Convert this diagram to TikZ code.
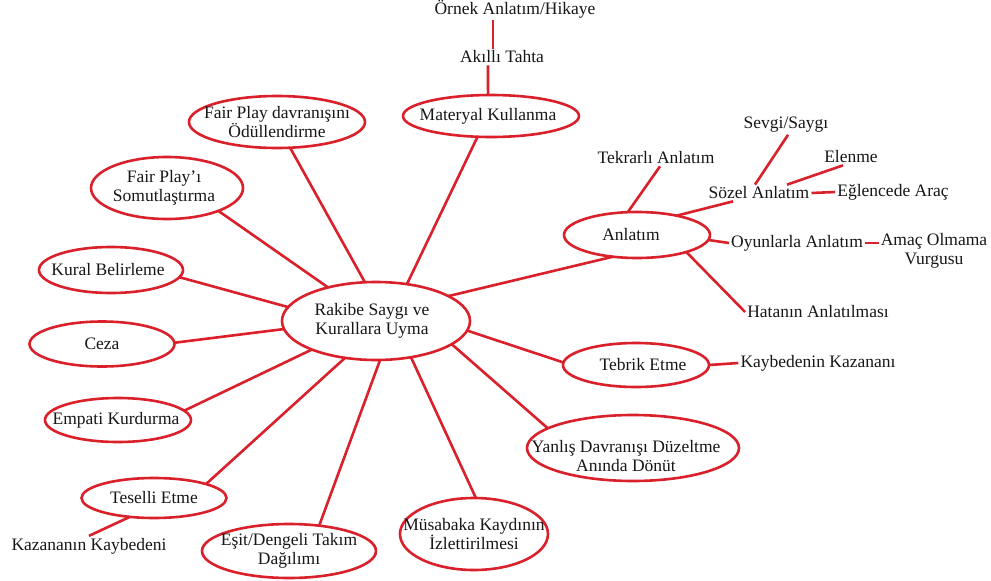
\documentclass[tikz,border=0pt]{standalone}
\usepackage{fontspec}
\setmainfont{Liberation Serif}
\usetikzlibrary{shapes.geometric}
\definecolor{lred}{RGB}{218,32,42}
\definecolor{ink}{RGB}{25,22,24}
\begin{document}
\begin{tikzpicture}[x=1pt,y=-1pt,
  ell/.style 2 args={ellipse, draw=lred, line width=2.6pt, minimum width=#1, minimum height=#2, inner sep=0pt, outer sep=0pt},
  txt/.style={text=ink, inner sep=2pt, font=\fontsize{17.5}{19}\selectfont, align=center},
  every label/.style={txt},
  link/.style={draw=lred, line width=2.6pt},
]
\useasboundingbox[fill=white] (0,0) rectangle (991,581);

% main ellipses
\node[ell={188}{78}, label={[xshift=-4pt]center:{Rakibe Saygı ve\\Kurallara Uyma}}] (c) at (376,321) {};
\node[ell={176}{42}, label={[xshift=-3pt]center:{Materyal Kullanma}}] (m) at (491,116) {};
\node[ell={176}{52}, label={center:{Fair Play davranışını\\Ödüllendirme}}] (o) at (277,122) {};
\node[ell={152}{62}, label={[xshift=-3pt]center:{Fair Play’ı\\Somutlaştırma}}] (s) at (167,188) {};
\node[ell={144}{46}, label={[xshift=-3pt]center:{Kural Belirleme}}] (k) at (111,270) {};
\node[ell={145}{45}, label={center:{Ceza}}] (z) at (102,344) {};
\node[ell={146}{44}, label={[xshift=-2pt]center:{Empati Kurdurma}}] (e) at (118,420) {};
\node[ell={145}{40}, label={center:{Teselli Etme}}] (t) at (154,498) {};
\node[ell={174}{54}, label={center:{Eşit/Dengeli Takım\\Dağılımı}}] (d) at (289,551) {};
\node[ell={148}{72}, label={center:{Müsabaka Kaydının\\İzlettirilmesi}}] (mu) at (474,534) {};
\node[ell={212}{66}, label={[xshift=-7pt,yshift=-8pt]center:{Yanlış Davranışı Düzeltme\\Anında Dönüt}}] (y) at (633,448) {};
\node[ell={146}{44}, label={[xshift=7pt]center:{Tebrik Etme}}] (tb) at (636,365) {};
\node[ell={146}{46}, label={[xshift=-6pt]center:{Anlatım}}] (a) at (637,235) {};

% free texts
\node[txt] (orn) at (515,9) {Örnek Anlatım/Hikaye};
\node[txt] (akil) at (502,57) {Akıllı Tahta};
\node[txt] (tek) at (656,158) {Tekrarlı Anlatım};
\node[txt] (sev) at (786,125) {Sevgi/Saygı};
\node[txt] (ele) at (851,157) {Elenme};
\node[txt] (soz) at (759,193) {Sözel Anlatım};
\node[txt] (egl) at (893,192) {Eğlencede Araç};
\node[txt] (oyu) at (797,243) {Oyunlarla Anlatım};
\node[txt] (amac) at (934,251) {Amaç Olmama\\Vurgusu};
\node[txt] (hat) at (818,312) {Hatanın Anlatılması};
\node[txt] (kay) at (818,363) {Kaybedenin Kazananı};
\node[txt] (kaz) at (89,546) {Kazananın Kaybedeni};

% connectors from centre
\draw[link] (c.50) -- (m.237);
\draw[link] (c.106) -- (o.-63);
\draw[link] (c.145) -- (s.-24);
\draw[link] (c.171) -- (k.-6);
\draw[link] (c.185) -- (z.1);
\draw[link] (c.204) -- (e.8);
\draw[link] (c.230) -- (t.15);
\draw[link] (c.-84) -- (d.40);
\draw[link] (c.-46) -- (mu.87);
\draw[link] (c.-17) -- (y.167);
\draw[link] (c.-6) -- (tb.178);
\draw[link] (c.19) -- (a.222);

% secondary connectors
\draw[link] (m.98) -- ([xshift=-14pt]akil.south);
\draw[link] ([xshift=-9pt]akil.north) -- ([xshift=-22pt]orn.south);
\draw[link] (a.112) -- ([xshift=4pt]tek.south);
\draw[link] (a.26) -- ([xshift=-26pt]soz.south);
\draw[link] ([xshift=-4pt]soz.north) -- ([xshift=2pt]sev.south);
\draw[link] ([xshift=28pt]soz.north) -- ([xshift=-8pt]ele.south);
\draw[link] (soz.east) -- (egl.west);
\draw[link] (a.-4) -- (oyu.west);
\draw[link] (oyu.east) -- ([yshift=8pt]amac.west);
\draw[link] (a.-19) -- (hat.west);
\draw[link] (tb.east) -- (kay.west);
\draw[link] (t.218) -- (kaz.north);
\end{tikzpicture}
\end{document}
